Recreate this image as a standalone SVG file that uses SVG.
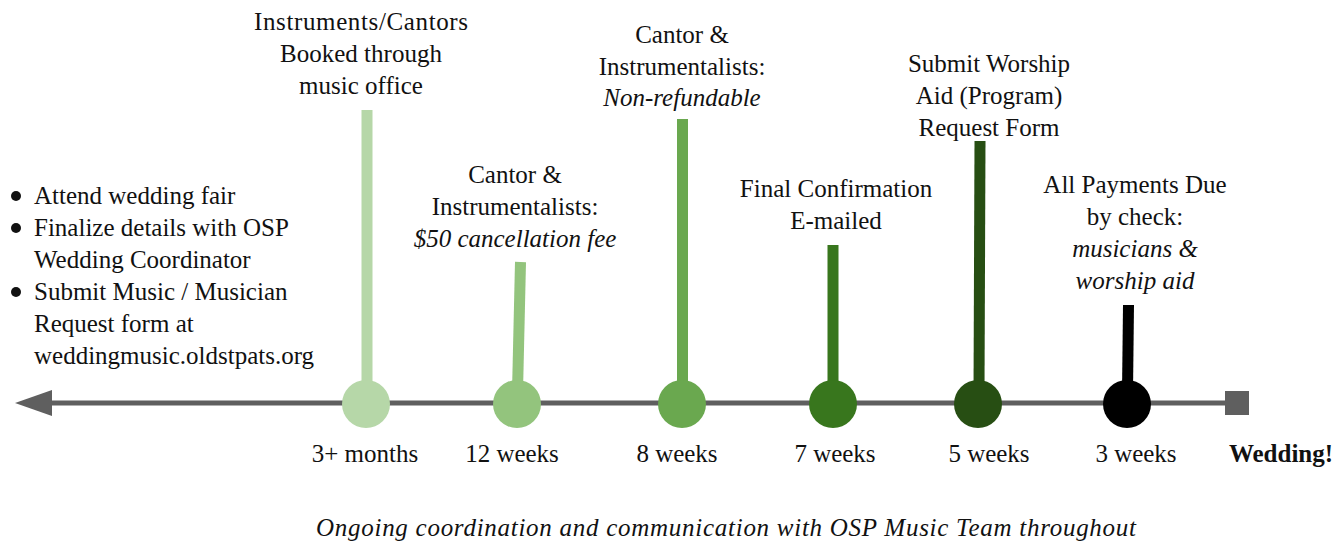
<svg xmlns="http://www.w3.org/2000/svg" width="1338" height="544" viewBox="0 0 1338 544">
<style>
text { font-family: "Liberation Serif", "DejaVu Serif", serif; font-size: 25px; fill: #111; }
.c { text-anchor: middle; }
.i { font-style: italic; }
.b { font-weight: bold; }
.stem { stroke-width: 11; stroke-linecap: butt; fill: none; }
</style>
<rect width="1338" height="544" fill="#ffffff"/>
<g id="connectors">
  <line x1="48" y1="403" x2="1232" y2="403" stroke="#5f5f5f" stroke-width="5"/>
  <polygon points="15,403 52,390 52,416" fill="#5f5f5f"/>
  <rect x="1225" y="391" width="24" height="24" fill="#5f5f5f"/>
</g>
<g id="left-notes">
  <circle cx="16" cy="196" r="5" fill="#111"/>
  <circle cx="16" cy="228" r="5" fill="#111"/>
  <circle cx="16" cy="292" r="5" fill="#111"/>
  <text x="34" y="204">Attend wedding fair</text>
  <text x="34" y="236">Finalize details with OSP</text>
  <text x="34" y="268">Wedding Coordinator</text>
  <text x="34" y="300">Submit Music / Musician</text>
  <text x="34" y="332">Request form at</text>
  <text x="34" y="364">weddingmusic.oldstpats.org</text>
</g>
<g id="m1">
  <line class="stem" x1="367" y1="110" x2="367" y2="392" stroke="#b6d7a8"/>
  <circle cx="366" cy="404" r="24" fill="#b6d7a8"/>
  <text class="c" x="361" y="30" textLength="214" lengthAdjust="spacing">Instruments/Cantors</text>
  <text class="c" x="361" y="62">Booked through</text>
  <text class="c" x="361" y="94">music office</text>
  <text class="c" x="365" y="462">3+ months</text>
</g>
<g id="m2">
  <line class="stem" x1="520.5" y1="262" x2="517.5" y2="392" stroke="#93c47d"/>
  <circle cx="517" cy="404" r="24" fill="#93c47d"/>
  <text class="c" x="515" y="183">Cantor &amp;</text>
  <text class="c" x="515" y="215">Instrumentalists:</text>
  <text class="c i" x="515" y="247">$50 cancellation fee</text>
  <text class="c" x="512" y="462">12 weeks</text>
</g>
<g id="m3">
  <line class="stem" x1="682.5" y1="119" x2="682.5" y2="392" stroke="#6aa84f"/>
  <circle cx="682" cy="404" r="24" fill="#6aa84f"/>
  <text class="c" x="682" y="43">Cantor &amp;</text>
  <text class="c" x="682" y="75">Instrumentalists:</text>
  <text class="c i" x="682" y="106">Non-refundable</text>
  <text class="c" x="677" y="462">8 weeks</text>
</g>
<g id="m4">
  <line class="stem" x1="833" y1="245" x2="833" y2="392" stroke="#38761d"/>
  <circle cx="833" cy="404" r="24" fill="#38761d"/>
  <text class="c" x="836" y="197">Final Confirmation</text>
  <text class="c" x="836" y="229">E-mailed</text>
  <text class="c" x="835" y="462">7 weeks</text>
</g>
<g id="m5">
  <line class="stem" x1="980" y1="141" x2="979" y2="392" stroke="#274e13"/>
  <circle cx="978" cy="404" r="24" fill="#274e13"/>
  <text class="c" x="989" y="72">Submit Worship</text>
  <text class="c" x="989" y="104">Aid (Program)</text>
  <text class="c" x="989" y="136">Request Form</text>
  <text class="c" x="989" y="462">5 weeks</text>
</g>
<g id="m6">
  <line class="stem" x1="1128.5" y1="305" x2="1127.5" y2="392" stroke="#000000"/>
  <circle cx="1127" cy="404" r="24" fill="#000000"/>
  <text class="c" x="1135" y="193">All Payments Due</text>
  <text class="c" x="1135" y="225">by check:</text>
  <text class="c i" x="1135" y="257">musicians &amp;</text>
  <text class="c i" x="1135" y="289">worship aid</text>
  <text class="c" x="1136" y="462">3 weeks</text>
</g>
<g id="wedding">
  <text class="c b" x="1281" y="462">Wedding!</text>
</g>
<g id="footer">
  <text class="c i" x="726" y="536" textLength="820" lengthAdjust="spacing">Ongoing coordination and communication with OSP Music Team throughout</text>
</g>
</svg>
